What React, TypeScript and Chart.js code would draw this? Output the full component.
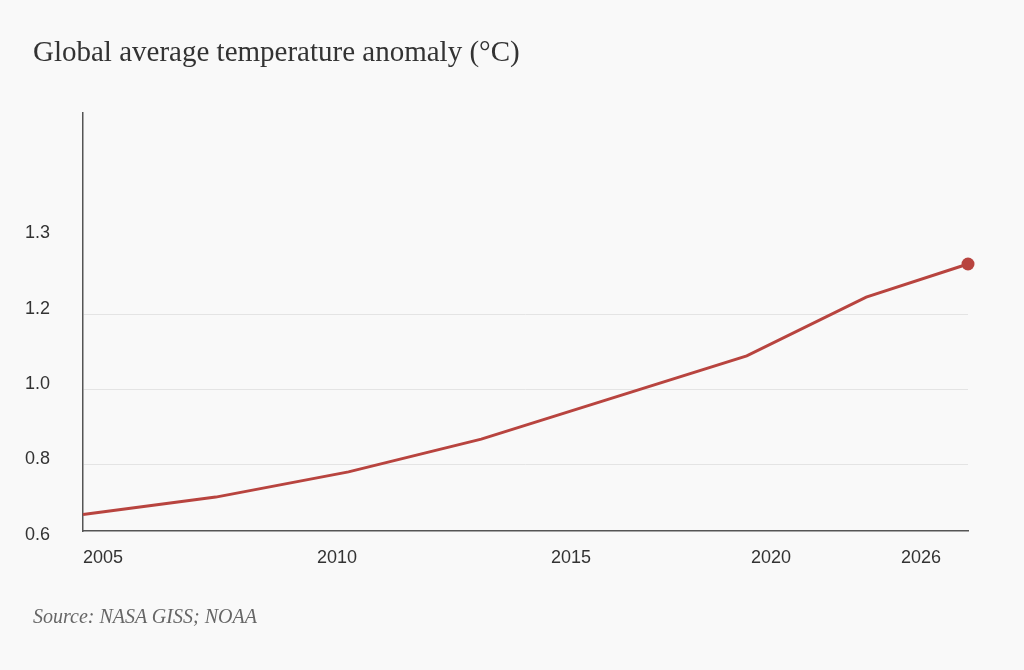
import React, { useEffect, useRef } from 'react';
import { Chart, registerables } from 'chart.js';

Chart.register(...registerables);

// ---- data ----
const years = [2005, 2008, 2011, 2014, 2020, 2022.7, 2025];
const anomaly = [0.668, 0.714, 0.781, 0.868, 1.089, 1.245, 1.333];
const xTickValues = [2005.45, 2010.74, 2016.03, 2020.55, 2023.94];
const xTickLabels = ['2005', '2010', '2015', '2020', '2026'];
const yTickValues = [0.6, 0.8, 1.0, 1.2, 1.4];
const yTickLabels = ['0.6', '0.8', '1.0', '1.2', '1.3'];
const yGridValues = [0.8, 1.0, 1.2];
const titleText = 'Global average temperature anomaly (°C)';
const sourceText = 'Source: NASA GISS; NOAA';

const LINE = '#b8443f';

export default function App() {
  const ref = useRef<HTMLCanvasElement | null>(null);

  useEffect(() => {
    if (!ref.current) return;
    const last = years.length - 1;
    const chart = new Chart(ref.current, {
      type: 'line',
      data: {
        datasets: [
          {
            data: years.map((x, i) => ({ x, y: anomaly[i] })),
            borderColor: LINE,
            backgroundColor: LINE,
            borderWidth: 3,
            tension: 0,
            fill: false,
            clip: false as any,
            pointRadius: (c: any) => (c.dataIndex === last ? 6.5 : 0),
            pointHoverRadius: (c: any) => (c.dataIndex === last ? 6.5 : 0),
            pointBorderWidth: 0,
            pointBackgroundColor: LINE,
          },
        ],
      },
      options: {
        responsive: false,
        animation: false,
        events: [],
        layout: { padding: { left: 25, top: 113, right: 56, bottom: 101.4 } },
        plugins: {
          legend: { display: false },
          tooltip: { enabled: false },
          title: { display: false },
        },
        scales: {
          x: {
            type: 'linear',
            min: 2005,
            max: 2025,
            afterBuildTicks: (scale: any) => {
              scale.ticks = xTickValues.map((v) => ({ value: v }));
            },
            afterFit: (scale: any) => {
              scale.height = 37.6;
            },
            grid: { display: false, drawTicks: false },
            border: { display: true, color: '#555', width: 1.5 },
            ticks: {
              autoSkip: false,
              maxRotation: 0,
              padding: 16,
              color: '#333',
              font: { family: '"Liberation Sans", Arial, sans-serif', size: 18 },
              callback: (_v: any, i: number) => xTickLabels[i],
            },
          },
          y: {
            type: 'linear',
            min: 0.624,
            max: 1.734,
            afterBuildTicks: (scale: any) => {
              scale.ticks = yTickValues.map((v) => ({ value: v }));
            },
            afterFit: (scale: any) => {
              scale.width = 58;
            },
            grid: {
              drawTicks: false,
              lineWidth: 1,
              color: (c: any) =>
                c.tick && yGridValues.some((g) => Math.abs(g - c.tick.value) < 1e-6)
                  ? '#e4e4e4'
                  : 'rgba(0,0,0,0)',
            },
            border: { display: true, color: '#555', width: 1.5 },
            ticks: {
              autoSkip: false,
              padding: 33,
              labelOffset: -5.5,
              color: '#333',
              font: { family: '"Liberation Sans", Arial, sans-serif', size: 18 },
              callback: (_v: any, i: number) => yTickLabels[i],
            },
          },
        },
      },
    } as any);
    return () => chart.destroy();
  }, []);

  return (
    <div
      style={{
        position: 'fixed',
        left: 0,
        top: 0,
        width: 1024,
        height: 670,
        background: '#f9f9f9',
        overflow: 'hidden',
      }}
    >
      <canvas
        ref={ref}
        width={1024}
        height={670}
        style={{ position: 'absolute', left: 0, top: 0, width: 1024, height: 670, display: 'block' }}
      />
      <div
        style={{
          position: 'absolute',
          left: 33,
          top: 37,
          fontFamily: '"Liberation Serif", "Times New Roman", serif',
          fontSize: 29,
          lineHeight: '29px',
          color: '#333',
          whiteSpace: 'nowrap',
        }}
      >
        {titleText}
      </div>
      <div
        style={{
          position: 'absolute',
          left: 33,
          top: 606,
          fontFamily: '"Liberation Serif", "Times New Roman", serif',
          fontStyle: 'italic',
          fontSize: 20,
          lineHeight: '20px',
          color: '#666',
          whiteSpace: 'nowrap',
        }}
      >
        {sourceText}
      </div>
    </div>
  );
}
